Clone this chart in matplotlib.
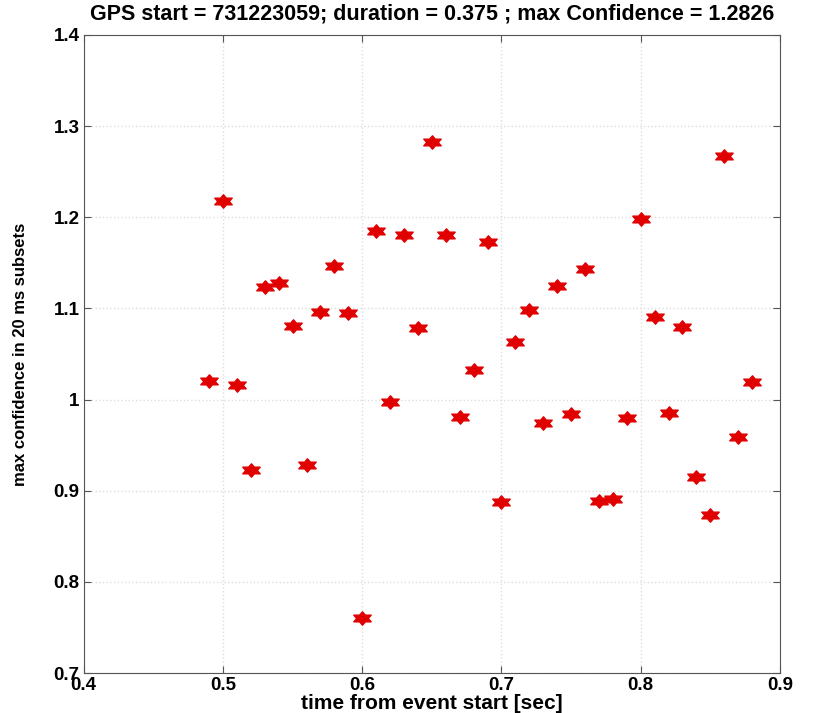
import numpy as np
import matplotlib
matplotlib.use("Agg")
import matplotlib.pyplot as plt
from matplotlib.path import Path

# time from event start [sec] and max confidence per 20 ms subset
times = [0.49, 0.50, 0.51, 0.52, 0.53, 0.54, 0.55, 0.56, 0.57, 0.58,
         0.59, 0.60, 0.61, 0.62, 0.63, 0.64, 0.65, 0.66, 0.67, 0.68,
         0.69, 0.70, 0.71, 0.72, 0.73, 0.74, 0.75, 0.76, 0.77, 0.78,
         0.79, 0.80, 0.81, 0.82, 0.83, 0.84, 0.85, 0.86, 0.87, 0.88]
confidence = [1.020, 1.218, 1.016, 0.923, 1.124, 1.128, 1.081, 0.928, 1.096, 1.146,
              1.095, 0.760, 1.185, 0.997, 1.180, 1.079, 1.2826, 1.181, 0.981, 1.033,
              1.173, 0.888, 1.063, 1.098, 0.974, 1.125, 0.984, 1.143, 0.889, 0.891,
              0.980, 1.198, 1.091, 0.985, 1.080, 0.915, 0.873, 1.2675, 0.959, 1.019]

xticks = [0.4, 0.5, 0.6, 0.7, 0.8, 0.9]
yticks = [0.7, 0.8, 0.9, 1.0, 1.1, 1.2, 1.3, 1.4]
xticklabels = ["0.4", "0.5", "0.6", "0.7", "0.8", "0.9"]
yticklabels = ["0.7", "0.8", "0.9", "1", "1.1", "1.2", "1.3", "1.4"]

# hexagram marker (like matlab 'h'), a bit wider than tall
ang = np.deg2rad(90 + 30 * np.arange(12))
rad = np.where(np.arange(12) % 2 == 0, 1.0, 0.577)
verts = np.column_stack([1.5 * rad * np.cos(ang), rad * np.sin(ang)])
verts = np.vstack([verts, verts[0]])
codes = [Path.MOVETO] + [Path.LINETO] * 11 + [Path.CLOSEPOLY]
hexagram = Path(verts, codes)

plt.rcParams["font.family"] = ["Liberation Sans", "DejaVu Sans"]
plt.rcParams["font.weight"] = "bold"

fig = plt.figure(figsize=(8.21, 7.13), dpi=100)
ax = fig.add_axes([0.102, 0.056, 0.848, 0.895])

ax.plot(times, confidence, linestyle="none", marker=hexagram,
        markersize=12.5, color="#e00000", markeredgecolor="#e00000")

ax.set_xlim(0.4, 0.9)
ax.set_ylim(0.7, 1.4)
ax.set_xticks(xticks)
ax.set_xticklabels(xticklabels)
ax.set_yticks(yticks)
ax.set_yticklabels(yticklabels)
ax.grid(True, color="#dddddd", linestyle=":", linewidth=1)
ax.set_axisbelow(True)
ax.tick_params(direction="in", top=True, right=True, length=5,
               color="#555555", labelsize=13.5, pad=3)
for s in ax.spines.values():
    s.set_color("#555555")

ax.set_xlabel("time from event start [sec]", fontsize=15, fontweight="bold",
              labelpad=0)
ax.set_ylabel("max confidence in 20 ms subsets", fontsize=12, fontweight="bold",
              labelpad=18)
ax.set_title("GPS start = 731223059; duration = 0.375 ; max Confidence = 1.2826",
             fontsize=15.5, fontweight="bold", pad=11)

fig.savefig("out.png", dpi=100)
